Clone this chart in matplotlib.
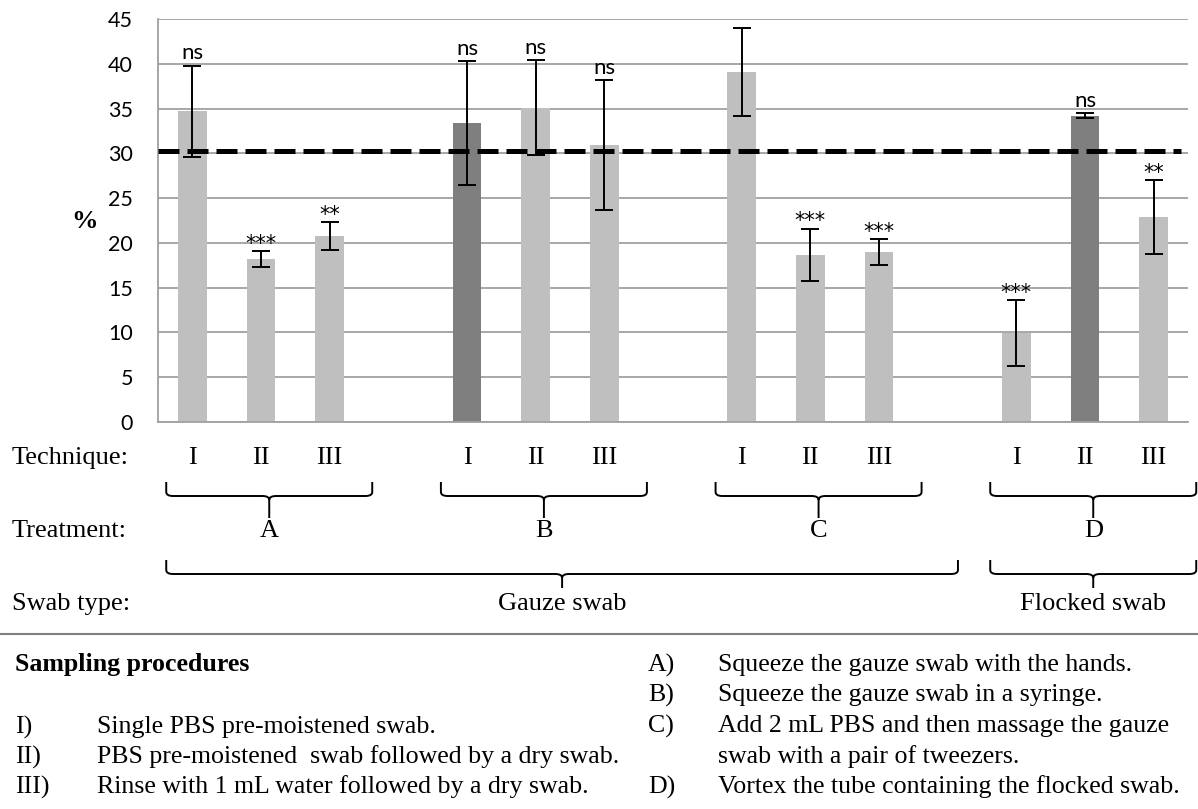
import matplotlib.pyplot as plt
import matplotlib.transforms as mtransforms
from matplotlib.path import Path
from matplotlib.patches import PathPatch

# recovery per sampling procedure (treatment x technique)
techniques = ["I", "II", "III"]
treatments = ["A", "B", "C", "D"]
swab_types = ["Gauze swab", "Flocked swab"]
recovery = [34.7, 18.2, 20.8, 33.4, 35.1, 30.9, 39.1, 18.7, 19.0, 9.9, 34.2, 22.9]
error = [5.1, 0.9, 1.55, 6.9, 5.3, 7.25, 4.9, 2.9, 1.45, 3.7, 0.3, 4.15]
significance = ["ns", "***", "**", "ns", "ns", "ns", "", "***", "***", "***", "ns", "**"]
reference_level = 30.3

left_notes = [("I)", "Single PBS pre-moistened swab."),
              ("II)", "PBS pre-moistened  swab followed by a dry swab."),
              ("III)", "Rinse with 1 mL water followed by a dry swab.")]
right_notes = [("A)", "Squeeze the gauze swab with the hands."),
               ("B)", "Squeeze the gauze swab in a syringe."),
               ("C)", "Add 2 mL PBS and then massage the gauze"),
               ("", "swab with a pair of tweezers."),
               ("D)", "Vortex the tube containing the flocked swab.")]

W, H = 1198, 809
fig = plt.figure(figsize=(W / 100, H / 100), dpi=100)
ax = fig.add_axes([158 / W, 1 - 422 / H, 1030 / W, 403 / H])

LIGHT = "#BFBFBF"
DARK = "#7F7F7F"
GRID = "#A0A0A0"
serif = "Liberation Serif"
sans = "Lato"

# each treatment gets 4 slots, the last one left empty as a gap
pos = [g * 4 + t for g in range(len(treatments)) for t in range(len(techniques))]
colors = [DARK if i in (3, 10) else LIGHT for i in range(len(recovery))]

ax.bar(pos, recovery, width=0.42, color=colors, zorder=2)
ax.errorbar(pos, recovery, yerr=error, fmt="none", ecolor="black",
            elinewidth=1.4, capsize=6.5, capthick=1.4, zorder=4)
ax.axhline(reference_level, xmin=0, xmax=0.993, color="black", lw=3.6,
           dashes=(4.2, 1.6), zorder=3)

for x, v, e, s in zip(pos, recovery, error, significance):
    if s == "ns":
        ax.annotate(s, (x, v + e), xytext=(0, 1.5), textcoords="offset points",
                    ha="center", va="bottom", fontsize=16, family=sans)
    elif s:
        ax.annotate(s, (x, v + e), xytext=(0, -2), textcoords="offset points",
                    ha="center", va="bottom", fontsize=15, family="DejaVu Sans")

ax.set_xlim(-0.5, 14.5)
ax.set_ylim(0, 45)
ax.set_yticks(range(0, 46, 5))
ax.set_xticks([])
ax.yaxis.grid(True, color=GRID, lw=1.3, zorder=0)
ax.set_axisbelow(True)
for side in ("top", "right"):
    ax.spines[side].set_visible(False)
for side in ("left", "bottom"):
    ax.spines[side].set_color(GRID)
    ax.spines[side].set_linewidth(1.3)
ax.tick_params(axis="y", length=0, pad=18, labelsize=15.5)
for lbl in ax.get_yticklabels():
    lbl.set_family(sans)
fig.text(85 / W, 1 - 222 / H, "%", family=serif, weight="bold", fontsize=19,
         ha="center", va="center")

# rows below the chart: x in data units, y in figure pixels
blend = mtransforms.blended_transform_factory(ax.transData, fig.transFigure)


def fy(py):
    return 1 - py / H


def brace(x0, x1, top, mid, tip):
    xc = (x0 + x1) / 2
    r = 0.1
    verts = [(x0, fy(top)), (x0, fy(mid - 4)), (x0, fy(mid)), (x0 + r, fy(mid)),
             (xc - r, fy(mid)), (xc, fy(mid)), (xc, fy(mid + 4)), (xc, fy(tip)),
             (xc, fy(mid + 4)), (xc, fy(mid)), (xc + r, fy(mid)),
             (x1 - r, fy(mid)), (x1, fy(mid)), (x1, fy(mid - 4)), (x1, fy(top))]
    codes = [Path.MOVETO, Path.LINETO, Path.CURVE3, Path.CURVE3,
             Path.LINETO, Path.CURVE3, Path.CURVE3, Path.LINETO,
             Path.MOVETO, Path.CURVE3, Path.CURVE3,
             Path.LINETO, Path.CURVE3, Path.CURVE3, Path.LINETO]
    fig.add_artist(PathPatch(Path(verts, codes), transform=blend, fill=False,
                             lw=1.4, edgecolor="black", clip_on=False))
    return xc


row_kw = dict(family=serif, fontsize=19, va="center")
fig.text(12 / W, fy(458), "Technique:", ha="left", **row_kw)
fig.text(12 / W, fy(531), "Treatment:", ha="left", **row_kw)
fig.text(12 / W, fy(604), "Swab type:", ha="left", **row_kw)

for g, name in enumerate(treatments):
    for t, tech in enumerate(techniques):
        fig.text(g * 4 + t, fy(458), tech, transform=blend, ha="center", **row_kw)
    xc = brace(g * 4 - 0.38, g * 4 + 2.62, 482, 496, 518)
    fig.text(xc, fy(531), name, transform=blend, ha="center", **row_kw)

for (x0, x1), name in zip([(-0.38, 11.15), (11.62, 14.62)], swab_types):
    xc = brace(x0, x1, 560, 574, 588)
    fig.text(xc, fy(604), name, transform=blend, ha="center", **row_kw)

fig.add_artist(plt.Line2D([0, 1], [fy(634), fy(634)], transform=fig.transFigure,
                          color="#808080", lw=1.5))

# sampling procedure notes
note_kw = dict(family=serif, fontsize=18.6, va="center", ha="left")
fig.text(15 / W, fy(665), "Sampling procedures", weight="bold", **note_kw)
for i, (key, txt) in enumerate(left_notes):
    fig.text(15 / W, fy(727 + 30 * i), key, **note_kw)
    fig.text(97 / W, fy(727 + 30 * i), txt, **note_kw)
for i, (key, txt) in enumerate(right_notes):
    fig.text(648 / W, fy(665 + 30.5 * i), key, **note_kw)
    fig.text(718 / W, fy(665 + 30.5 * i), txt, **note_kw)

fig.savefig("out.png", dpi=100)
